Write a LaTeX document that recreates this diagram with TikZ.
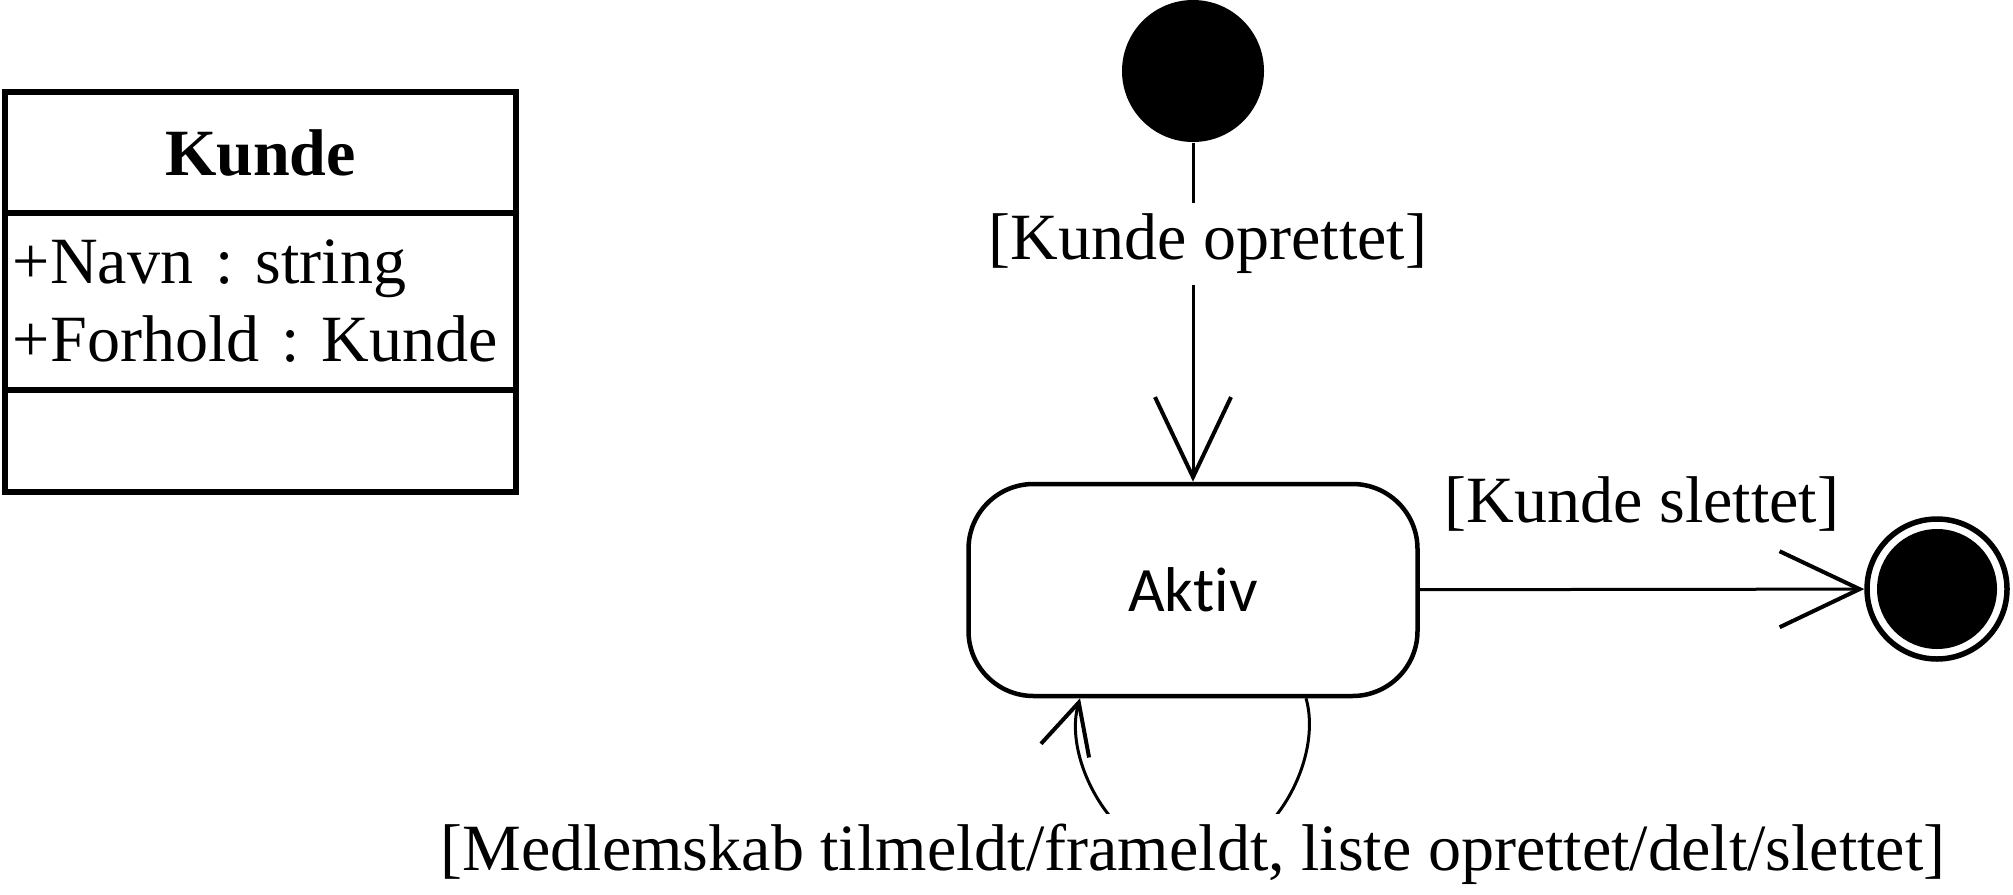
\documentclass[tikz,border=0pt]{standalone}
\usepackage{fontspec}
\setmainfont{Liberation Serif}
\newfontfamily\aktivfont[Ligatures=CommonOff]{Carlito}
\frenchspacing
\usetikzlibrary{arrows.meta,calc,positioning}
\tikzset{
  klasse/.style={draw,line width=0.55mm,minimum width=51.1mm,inner sep=0pt,outer sep=0pt},
  tilstand/.style={draw,line width=0.45mm,rounded corners=6.5mm,minimum width=44.9mm,
    minimum height=21.2mm,font=\aktivfont\fontsize{18}{22}\selectfont},
  vagt/.style={fill=white,inner sep=1mm,font=\fontsize{18.8}{22.2}\selectfont},
  overgang/.style={line width=0.3mm,-{Straight Barb[length=8mm,width=7.6mm,line width=0.4mm]}},
  selvovergang/.style={line width=0.3mm,-{Straight Barb[length=5mm,width=5mm,line width=0.4mm]}},
}
\begin{document}
\begin{tikzpicture}[x=0.1mm,y=-0.1mm]
\useasboundingbox (0,0) rectangle (2013,894);
% klassen Kunde
\node[klasse,minimum height=12.1mm,anchor=north west,font=\bfseries\fontsize{18.8}{22.2}\selectfont] (kundenavn) at (5,92) {Kunde};
\node[klasse,minimum height=17.7mm,below=0pt of kundenavn,inner xsep=0.8mm,text width=49.5mm,align=left,
  font=\fontsize{18.8}{22.2}\selectfont] (kundeattr) {+Navn : string\\+Forhold : Kunde};
\node[klasse,minimum height=10.2mm,below=0pt of kundeattr] (kundeops) {};
% tilstande
\node[circle,fill=black,minimum size=14.2mm,inner sep=0pt] (start) at (1193,71) {};
\node[vagt] (oprettet) at (1208,244) {[Kunde oprettet]};
\node[tilstand] (aktiv) at (1193,590) {Aktiv};
\node[circle,draw,line width=0.55mm,minimum size=14mm,inner sep=0pt] (slut) at (1937,589) {};
\node[circle,fill=black,minimum size=12mm,inner sep=0pt] (slutkerne) at (slut.center) {};
% overgange
\draw[line width=0.3mm] (start) -- (start |- oprettet.north);
\draw[overgang] (start |- oprettet.south) -- (aktiv);
\draw[overgang] (aktiv) -- node[vagt,above=4.7mm] (slettet) {[Kunde slettet]} (slut);
\draw[selvovergang] ($(aktiv.south)+(113,0)$) .. controls +(18,63) and +(76,0) .. ($(aktiv.south)+(0,163)$)
  .. controls +(-76,0) and +(-18,63) .. ($(aktiv.south)+(-113,0)$);
\node[vagt] (medlem) at (1193,854) {[Medlemskab tilmeldt/frameldt, liste oprettet/delt/slettet]};
\end{tikzpicture}
\end{document}
